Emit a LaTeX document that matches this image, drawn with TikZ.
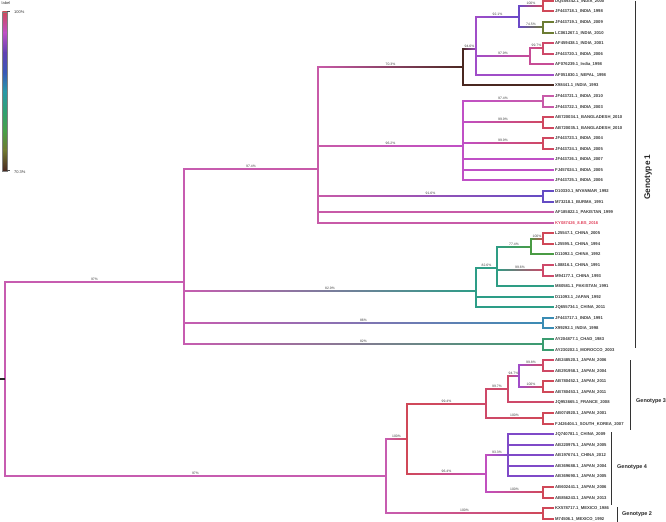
\documentclass[tikz,border=0pt]{standalone}
\usepackage{fontspec}
\setmainfont{Liberation Sans}
\usetikzlibrary{calc}
\definecolor{c100}{HTML}{D04858}
\definecolor{c999}{HTML}{D04860}
\definecolor{c998}{HTML}{CF4864}
\definecolor{c997}{HTML}{CE4969}
\definecolor{c996}{HTML}{CE4969}
\definecolor{c994}{HTML}{CE4969}
\definecolor{c979}{HTML}{C74C96}
\definecolor{c974}{HTML}{C85AA8}
\definecolor{c97}{HTML}{C75CB0}
\definecolor{c964}{HTML}{C150BF}
\definecolor{c962}{HTML}{C050C6}
\definecolor{c947}{HTML}{A14DC8}
\definecolor{c946}{HTML}{A04DC8}
\definecolor{c933}{HTML}{7F4AC8}
\definecolor{c921}{HTML}{6B49C7}
\definecolor{c916}{HTML}{644BC4}
\definecolor{c86}{HTML}{3A8CB4}
\definecolor{c829}{HTML}{2D9D87}
\definecolor{c826}{HTML}{2E9D84}
\definecolor{c82}{HTML}{3A9C70}
\definecolor{c774}{HTML}{4A9B44}
\definecolor{c745}{HTML}{6C7C32}
\definecolor{c703}{HTML}{4A2820}
\definecolor{kyred}{HTML}{E0405A}
\newcommand{\thb}[4]{\shade[left color=#3,right color=#4] ($(#1 |- #2)+(-0.9,-0.9)$) rectangle ($(#2)+(0.9,0.9)$);}
\newcommand{\tvb}[4]{\draw[br,#4] (#1 |- #2) -- (#1 |- #3);}
\newcommand{\tlb}[3]{\draw[br,#2] (#1 |- l#3) -- (l#3.west);}
\newcommand{\tsv}[3]{\node[suplab] at ($(#1 |- #2)!0.5!(#2)$) {#3};}
\tikzset{
  br/.style={line width=2bp, line cap=rect},
  leaflab/.style={anchor=west, inner xsep=2bp, inner ysep=0pt, font=\bfseries\fontsize{4.2}{5}\selectfont, text=black!78},
  suplab/.style={anchor=south, inner sep=0.8bp, font=\fontsize{3.4}{4}\selectfont, text=black!75},
  gbar/.style={line width=1bp, black!80},
  glab/.style={anchor=west, inner sep=0pt, font=\bfseries\fontsize{5.5}{6.5}\selectfont, text=black!85},
  leglab/.style={anchor=west, inner sep=0pt, font=\fontsize{4}{5}\selectfont, text=black!80}
}
\begin{document}
\begin{tikzpicture}[x=1bp,y=-1bp]
\useasboundingbox (0,0) rectangle (666,522);
% ---------- leaves ----------
\foreach \i/\y/\t in {1/1/DQ459342.1\_INDIA\_2000,2/11/JF443718.1\_INDIA\_1998,3/22/JF443719.1\_INDIA\_2009,4/33/LC061267.1\_INDIA\_2010,5/43/AF459438.1\_INDIA\_2001,6/54/JF443720.1\_INDIA\_2006,7/64/AF076239.1\_India\_1998,8/75/AF051830.1\_NEPAL\_1998,9/85/X98441.1\_INDIA\_1993,10/96/JF443721.1\_INDIA\_2010,11/107/JF443722.1\_INDIA\_2003,12/117/AB720034.1\_BANGLADESH\_2010,13/128/AB720035.1\_BANGLADESH\_2010,14/138/JF443723.1\_INDIA\_2004,15/149/JF443724.1\_INDIA\_2005,16/159/JF443726.1\_INDIA\_2007,17/170/FJ457024.1\_INDIA\_2005,18/180/JF443725.1\_INDIA\_2006,19/191/D10330.1\_MYANMAR\_1992,20/202/M73218.1\_BURMA\_1991,21/212/AF185822.1\_PAKISTAN\_1999,23/233/L25547.1\_CHINA\_2005,24/244/L25595.1\_CHINA\_1994,25/254/D11092.1\_CHINA\_1992,26/265/L08816.1\_CHINA\_1991,27/276/M94177.1\_CHINA\_1993,28/286/M80581.1\_PAKISTAN\_1991,29/297/D11093.1\_JAPAN\_1992,30/307/JQ655734.1\_CHINA\_2011,31/318/JF443717.1\_INDIA\_1991,32/328/X99292.1\_INDIA\_1998,33/339/AY204877.1\_CHAD\_1983,34/350/AY230202.1\_MOROCCO\_2003,35/360/AB248520.1\_JAPAN\_2006,36/371/AB291958.1\_JAPAN\_2004,37/381/AB780452.1\_JAPAN\_2011,38/392/AB780453.1\_JAPAN\_2011,39/402/JQ953665.1\_FRANCE\_2008,40/413/AB074920.1\_JAPAN\_2001,41/424/FJ426404.1\_SOUTH\_KOREA\_2007,42/434/JQ740781.1\_CHINA\_2009,43/445/AB220975.1\_JAPAN\_2005,44/455/AB197674.1\_CHINA\_2012,45/466/AB369688.1\_JAPAN\_2004,46/476/AB369690.1\_JAPAN\_2005,47/487/AB602441.1\_JAPAN\_2006,48/498/AB856243.1\_JAPAN\_2013,49/508/KX578717.1\_MEXICO\_1986,50/519/M74506.1\_MEXICO\_1992}
  {\node[leaflab] (l\i) at (553,\y) {\t};}
\node[leaflab, text=kyred] (l22) at (553,223) {KY087426\_8.BS\_2016};
% ---------- internal nodes ----------
\coordinate (root) at (5,379);
\coordinate (rootend) at (0,379);
\coordinate (u97) at (184,282);
\coordinate (l97) at (386,476);
\coordinate (g974) at (318,169);
\coordinate (a703) at (463,67);
\coordinate (a946) at (476,49);
\coordinate (a921) at (519,17);
\coordinate (a100) at (543,6);
\coordinate (a745) at (543,27);
\coordinate (a979) at (530,56);
\coordinate (a997) at (543,48);
\coordinate (b962) at (463,146);
\coordinate (b974) at (543,101);
\coordinate (b999a) at (543,122);
\coordinate (b999b) at (543,143);
\coordinate (c916) at (543,196);
\coordinate (d829) at (476,291);
\coordinate (d826) at (497,268);
\coordinate (d774) at (531,247);
\coordinate (d100) at (543,239);
\coordinate (d996) at (543,270);
\coordinate (e86) at (543,323);
\coordinate (e82) at (543,344);
\coordinate (j100) at (407,439);
\coordinate (h994) at (486,404);
\coordinate (h997) at (508,389);
\coordinate (h947) at (519,376);
\coordinate (h998) at (543,365);
\coordinate (h100a) at (543,387);
\coordinate (h100b) at (543,418);
\coordinate (i964) at (486,474);
\coordinate (i933) at (508,455);
\coordinate (i100) at (543,492);
\coordinate (k100) at (543,513);
% ---------- horizontal branches ----------
\thb{root}{u97}{c97}{c97}
\thb{root}{l97}{c97}{c97}
\thb{u97}{g974}{c97}{c974}
\thb{g974}{a703}{c974}{c703}
\thb{a703}{a946}{c703}{c946}
\thb{a946}{a921}{c946}{c921}
\thb{a921}{a100}{c921}{c100}
\thb{a921}{a745}{c921}{c745}
\thb{a946}{a979}{c946}{c979}
\thb{a979}{a997}{c979}{c997}
\thb{g974}{b962}{c974}{c962}
\thb{b962}{b974}{c962}{c974}
\thb{b962}{b999a}{c962}{c999}
\thb{b962}{b999b}{c962}{c999}
\thb{g974}{c916}{c974}{c916}
\thb{u97}{d829}{c97}{c829}
\thb{d829}{d826}{c829}{c826}
\thb{d826}{d774}{c826}{c774}
\thb{d774}{d100}{c774}{c100}
\thb{d826}{d996}{c826}{c996}
\thb{u97}{e86}{c97}{c86}
\thb{u97}{e82}{c97}{c82}
\thb{l97}{j100}{c97}{c100}
\thb{j100}{h994}{c100}{c994}
\thb{h994}{h997}{c994}{c997}
\thb{h997}{h947}{c997}{c947}
\thb{h947}{h998}{c947}{c998}
\thb{h947}{h100a}{c947}{c100}
\thb{h994}{h100b}{c994}{c100}
\thb{j100}{i964}{c100}{c964}
\thb{i964}{i933}{c964}{c933}
\thb{i964}{i100}{c964}{c100}
\thb{l97}{k100}{c97}{c100}
% ---------- leaf branches ----------
\tlb{a100}{c100}{1}\tlb{a100}{c100}{2}
\tlb{a745}{c745}{3}\tlb{a745}{c745}{4}
\tlb{a997}{c997}{5}\tlb{a997}{c997}{6}
\tlb{a979}{c979}{7}
\tlb{a946}{c946}{8}
\tlb{a703}{c703}{9}
\tlb{b974}{c974}{10}\tlb{b974}{c974}{11}
\tlb{b999a}{c999}{12}\tlb{b999a}{c999}{13}
\tlb{b999b}{c999}{14}\tlb{b999b}{c999}{15}
\tlb{b962}{c962}{16}\tlb{b962}{c962}{17}\tlb{b962}{c962}{18}
\tlb{c916}{c916}{19}\tlb{c916}{c916}{20}
\tlb{g974}{c974}{21}\tlb{g974}{c974}{22}
\tlb{d100}{c100}{23}\tlb{d100}{c100}{24}
\tlb{d774}{c774}{25}
\tlb{d996}{c996}{26}\tlb{d996}{c996}{27}
\tlb{d826}{c826}{28}
\tlb{d829}{c829}{29}\tlb{d829}{c829}{30}
\tlb{e86}{c86}{31}\tlb{e86}{c86}{32}
\tlb{e82}{c82}{33}\tlb{e82}{c82}{34}
\tlb{h998}{c998}{35}\tlb{h998}{c998}{36}
\tlb{h100a}{c100}{37}\tlb{h100a}{c100}{38}
\tlb{h997}{c997}{39}
\tlb{h100b}{c100}{40}\tlb{h100b}{c100}{41}
\tlb{i933}{c933}{42}\tlb{i933}{c933}{43}\tlb{i933}{c933}{44}\tlb{i933}{c933}{45}\tlb{i933}{c933}{46}
\tlb{i100}{c100}{47}\tlb{i100}{c100}{48}
\tlb{k100}{c100}{49}\tlb{k100}{c100}{50}
% ---------- vertical branches ----------
\tvb{root}{u97}{l97}{c97}
\tvb{u97}{g974}{e82}{c97}
\tvb{g974}{a703}{l22}{c974}
\tvb{a703}{a946}{l9}{c703}
\tvb{a946}{a921}{l8}{c946}
\tvb{a921}{a100}{a745}{c921}
\tvb{a100}{l1}{l2}{c100}
\tvb{a745}{l3}{l4}{c745}
\tvb{a979}{a997}{l7}{c979}
\tvb{a997}{l5}{l6}{c997}
\tvb{b962}{b974}{l18}{c962}
\tvb{b974}{l10}{l11}{c974}
\tvb{b999a}{l12}{l13}{c999}
\tvb{b999b}{l14}{l15}{c999}
\tvb{c916}{l19}{l20}{c916}
\tvb{d829}{d826}{l30}{c829}
\tvb{d826}{d774}{l28}{c826}
\tvb{d774}{d100}{l25}{c774}
\tvb{d100}{l23}{l24}{c100}
\tvb{d996}{l26}{l27}{c996}
\tvb{e86}{l31}{l32}{c86}
\tvb{e82}{l33}{l34}{c82}
\tvb{l97}{j100}{k100}{c97}
\tvb{j100}{h994}{i964}{c100}
\tvb{h994}{h997}{h100b}{c994}
\tvb{h997}{h947}{l39}{c997}
\tvb{h947}{h998}{h100a}{c947}
\tvb{h998}{l35}{l36}{c998}
\tvb{h100a}{l37}{l38}{c100}
\tvb{h100b}{l40}{l41}{c100}
\tvb{i964}{i933}{i100}{c964}
\tvb{i933}{l42}{l46}{c933}
\tvb{i100}{l47}{l48}{c100}
\tvb{k100}{l49}{l50}{c100}
\draw[line width=2bp, black!85] (rootend) -- (root);
% ---------- support values ----------
\tsv{root}{u97}{97\%}
\tsv{root}{l97}{97\%}
\tsv{u97}{g974}{97.4\%}
\tsv{g974}{a703}{70.3\%}
\tsv{a703}{a946}{94.6\%}
\tsv{a946}{a921}{92.1\%}
\tsv{a921}{a100}{100\%}
\tsv{a921}{a745}{74.5\%}
\tsv{a946}{a979}{97.9\%}
\tsv{a979}{a997}{99.7\%}
\tsv{g974}{b962}{96.2\%}
\tsv{b962}{b974}{97.4\%}
\tsv{b962}{b999a}{99.9\%}
\tsv{b962}{b999b}{99.9\%}
\tsv{g974}{c916}{91.6\%}
\tsv{u97}{d829}{82.9\%}
\tsv{d829}{d826}{82.6\%}
\tsv{d826}{d774}{77.4\%}
\tsv{d774}{d100}{100\%}
\tsv{d826}{d996}{99.6\%}
\tsv{u97}{e86}{86\%}
\tsv{u97}{e82}{82\%}
\tsv{l97}{j100}{100\%}
\tsv{j100}{h994}{99.4\%}
\tsv{h994}{h997}{99.7\%}
\tsv{h997}{h947}{94.7\%}
\tsv{h947}{h998}{99.8\%}
\tsv{h947}{h100a}{100\%}
\tsv{h994}{h100b}{100\%}
\tsv{j100}{i964}{96.4\%}
\tsv{i964}{i933}{93.3\%}
\tsv{i964}{i100}{100\%}
\tsv{l97}{k100}{100\%}
% ---------- legend ----------
\node[leglab] (legtitle) at (1.5,3.5) {label};
\shade[top color=c100, bottom color=c962] (2.3,11.7) rectangle (7.3,32.4);
\shade[top color=c962, bottom color=c921!90!black] (2.3,32.4) rectangle (7.3,53.0);
\shade[top color=c921!90!black, bottom color={rgb,255:red,56;green,88;blue,184}] (2.3,53.0) rectangle (7.3,72.1);
\shade[top color={rgb,255:red,56;green,88;blue,184}, bottom color={rgb,255:red,40;green,152;blue,168}] (2.3,72.1) rectangle (7.3,91.2);
\shade[top color={rgb,255:red,40;green,152;blue,168}, bottom color={rgb,255:red,48;green,160;blue,112}] (2.3,91.2) rectangle (7.3,111.9);
\shade[top color={rgb,255:red,48;green,160;blue,112}, bottom color={rgb,255:red,72;green,160;blue,72}] (2.3,111.9) rectangle (7.3,130.95);
\shade[top color={rgb,255:red,72;green,160;blue,72}, bottom color={rgb,255:red,112;green,122;blue,48}] (2.3,130.95) rectangle (7.3,150.0);
\shade[top color={rgb,255:red,112;green,122;blue,48}, bottom color=c703] (2.3,150.0) rectangle (7.3,170.7);
\draw[black!50, line width=0.3bp] (2.3,11.7) rectangle (7.3,170.7);
\draw[black!70, line width=0.4bp] (7.3,11.7) -- (10,11.7) (7.3,170.7) -- (10,170.7);
\node[leglab] (legtop) at (14,12.5) {100\%};
\node[leglab] (legbot) at (14,172.5) {70.3\%};
% ---------- genotype bars ----------
\coordinate (g1t) at (635,1); \coordinate (g1b) at (635,348);
\draw[gbar] (g1t) -- (g1b);
\node[rotate=90, inner sep=0pt, font=\bfseries\fontsize{8.3}{9}\selectfont, text=black!85] (g1) at (648,177) {Genotype 1};
\coordinate (g3t) at (630,360); \coordinate (g3b) at (630,430);
\draw[gbar] (g3t) -- (g3b);
\node[glab] (g3) at (636,401) {Genotype 3};
\coordinate (g4t) at (611,432); \coordinate (g4b) at (611,505);
\draw[gbar] (g4t) -- (g4b);
\node[glab] (g4) at (617,467) {Genotype 4};
\coordinate (g2t) at (617.5,507); \coordinate (g2b) at (617.5,522);
\draw[gbar] (g2t) -- (g2b);
\node[glab] (g2) at (622,514) {Genotype 2};
\end{tikzpicture}
\end{document}
